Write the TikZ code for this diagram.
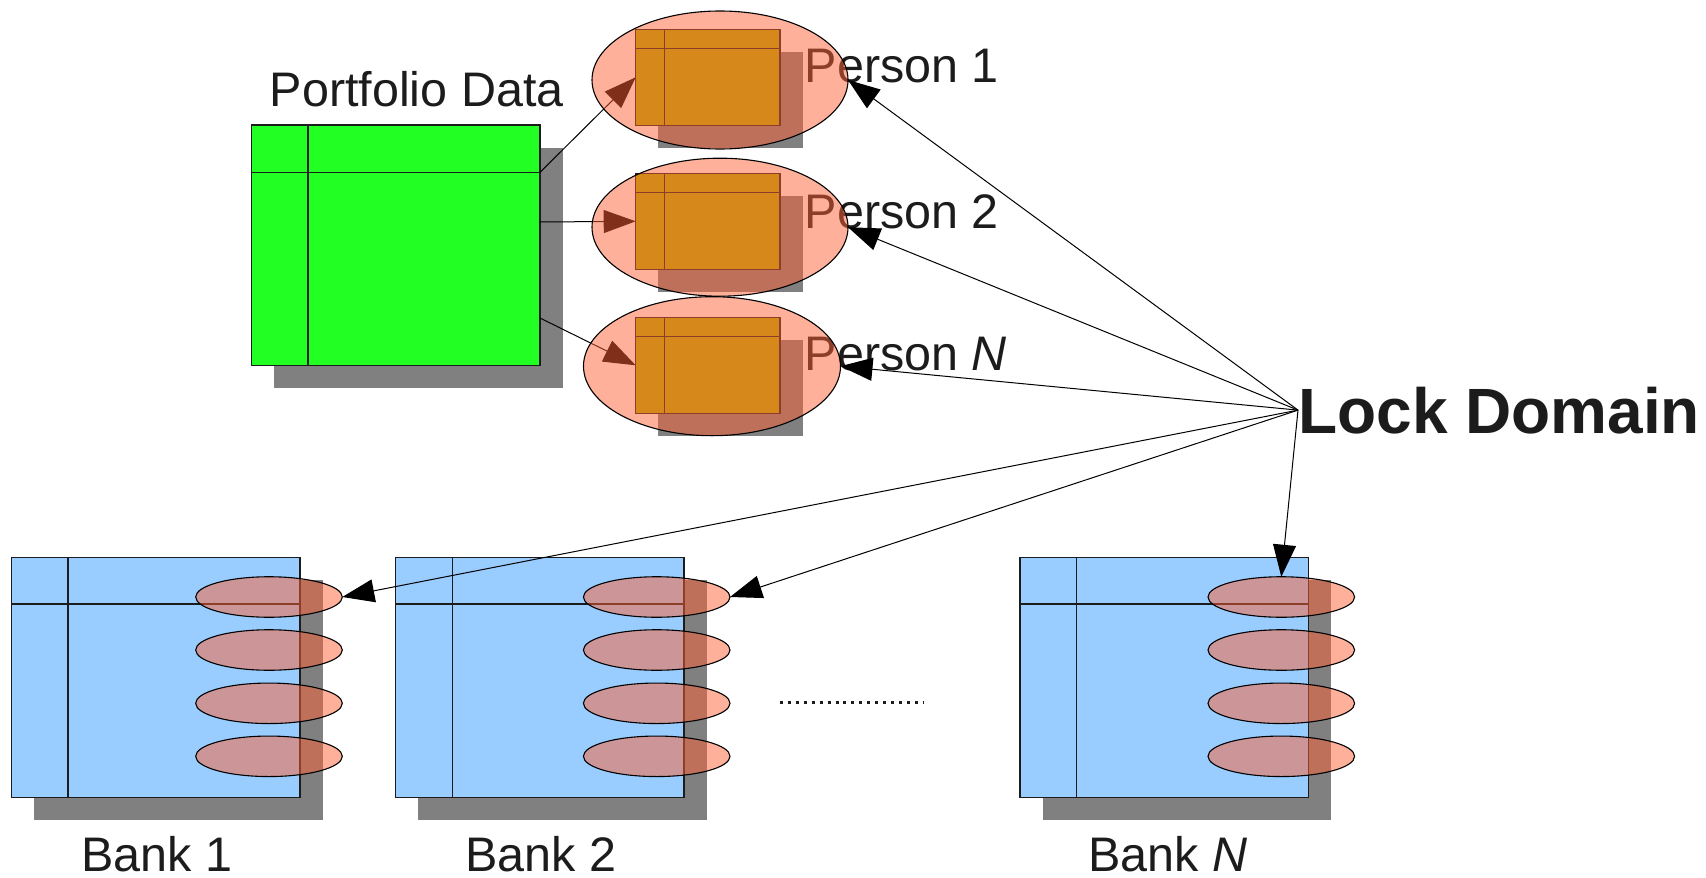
\documentclass[tikz,border=0pt]{standalone}
\usepackage{fontspec}
\setmainfont{Liberation Sans}
\usetikzlibrary{arrows.meta,shapes.geometric,calc}

\definecolor{ink}{RGB}{28,28,28}
\definecolor{pdgreen}{RGB}{34,255,34}
\definecolor{bankblue}{RGB}{153,204,255}
\definecolor{ptab}{RGB}{173,179,0}
\definecolor{shadowgray}{RGB}{128,128,128}
\definecolor{lockred}{RGB}{255,97,53}

\pgfdeclarelayer{front}
\pgfsetlayers{main,front}

% A table: shadow, body, header rule and key column rule.
% #1 name, #2 fill, #3/#4 top-left corner, #5 width, #6 height,
% #7 header depth, #8 key column width
\newcommand{\dbtable}[8]{%
  \fill[shadowgray] (#3+22.5,#4+22.5) rectangle ++(#5,#6);
  \node[tbl, fill=#2, minimum width=#5pt, minimum height=#6pt]
    (#1) at (#3+#5/2,#4+#6/2) {};
  \draw[tblline] ($(#1.north west)+(0,#7)$) -- ($(#1.north east)+(0,#7)$);
  \draw[tblline] ($(#1.north west)+(#8,0)$) -- ($(#1.south west)+(#8,0)$);
}

\tikzset{
  tbl/.style={rectangle, draw=ink, line width=1.2pt, inner sep=0pt, outer sep=0pt},
  tblline/.style={draw=ink, line width=1.2pt},
  lbl/.style={font=\fontsize{48.5}{58}\selectfont, text=ink, inner sep=0pt},
  lockarea/.style={ellipse, draw=black, line width=1.1pt, fill=lockred,
    fill opacity=0.5, inner sep=0pt, outer sep=0pt},
  arr/.style={draw=black, line width=1pt, -{Triangle[length=32pt,width=23pt]}},
}

\begin{document}
\begin{tikzpicture}[x=1pt,y=-1pt]
\useasboundingbox (0,0) rectangle (1706,878);

% portfolio table and one table per person
\dbtable{pd}{pdgreen}{251.7}{125}{288.3}{240.7}{47.3}{56.3}
\dbtable{t1}{ptab}{635.7}{29.3}{144.3}{96}{19}{28.6}
\dbtable{t2}{ptab}{635.7}{173.3}{144.3}{96}{19}{28.6}
\dbtable{tN}{ptab}{635.7}{317.3}{144.3}{96}{19.4}{28.6}

% bank tables
\dbtable{b1}{bankblue}{11.7}{557.3}{288.3}{240}{46.7}{56.3}
\dbtable{b2}{bankblue}{395.7}{557.3}{288.3}{240}{46.7}{56.6}
\dbtable{bN}{bankblue}{1020}{557.3}{288.3}{240}{46.7}{56.7}

% labels
\node[lbl, anchor=base west] (pdl) at (269.5,106) {Portfolio Data};
\node[lbl, anchor=base west] (p1l) at (804.5,82) {Person 1};
\node[lbl, anchor=base west] (p2l) at (804.5,228) {Person 2};
\node[lbl, anchor=base west] (pNl) at (804.5,370) {Person \textit{N}};
\node[lbl, anchor=base] (b1l) at (157,871) {Bank 1};
\node[lbl, anchor=base] (b2l) at (541,871) {Bank 2};
\node[lbl, anchor=base] (bNl) at (1168,871) {Bank \textit{N}};
\node[font=\bfseries\fontsize{64}{77}\selectfont, text=ink, inner sep=0pt,
      anchor=base west] (lock) at (1298,433) {Lock Domain};

% ellipsis between the banks
\draw[ink, line width=3pt, dash pattern=on 3pt off 4.93pt] (780,702) -- (923,702);

% lock areas, laid over tables and labels
\begin{pgfonlayer}{front}
  \node[lockarea, minimum width=256pt, minimum height=138pt] (e1) at (720,80) {};
  \node[lockarea, minimum width=256pt, minimum height=138pt] (e2) at (720,227.2) {};
  \node[lockarea, minimum width=257pt, minimum height=139pt] (eN) at (712,366.2) {};
  \foreach \bk/\cx in {b1/269, b2/656.7, bN/1281.3}
    \foreach \k/\cy in {1/597, 2/650, 3/703.3, 4/756.3}
      \node[lockarea, minimum width=146.6pt, minimum height=40.5pt]
        (\bk-\k) at (\cx,\cy) {};
\end{pgfonlayer}

% portfolio rows split into person tables
\coordinate (s1) at ($(pd.north east)+(0,47.3)$);
\coordinate (s2) at ($(pd.north east)+(0,97)$);
\coordinate (sN) at ($(pd.north east)+(0,193)$);
\draw[arr] (s1) -- (t1.west);
\draw[arr] (s2) -- (t2.west);
\draw[arr] (sN) -- (tN.west);

% lock domain members
\draw[arr] (lock.west) -- (e1.east);
\draw[arr] (lock.west) -- (e2.east);
\draw[arr] (lock.west) -- (eN.east);
\draw[arr] (lock.west) -- (b1-1.east);
\draw[arr] (lock.west) -- (b2-1.east);
\draw[arr] (lock.west) -- (bN-1.north);
\end{tikzpicture}
\end{document}
